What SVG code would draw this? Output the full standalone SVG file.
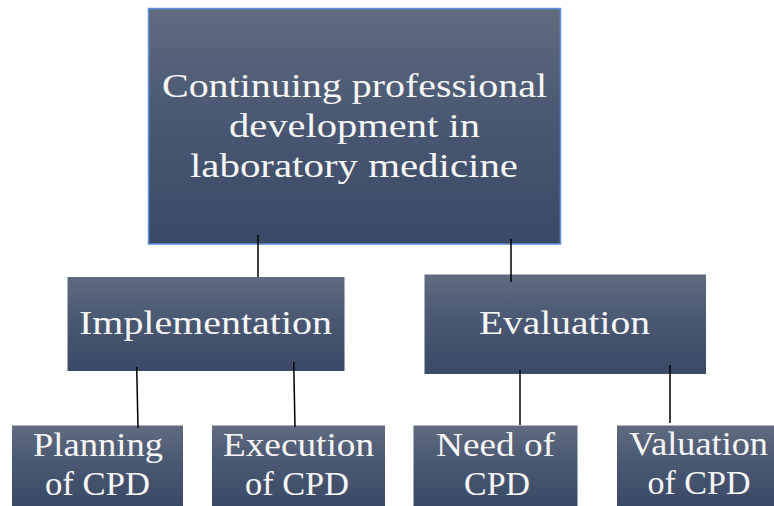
<svg xmlns="http://www.w3.org/2000/svg" width="774" height="506" viewBox="0 0 774 506">
  <defs>
    <linearGradient id="g" x1="0" y1="0" x2="0" y2="1">
      <stop offset="0" stop-color="#606b7e"/>
      <stop offset="0.45" stop-color="#4a5873"/>
      <stop offset="1" stop-color="#3a4965"/>
    </linearGradient>
    <style>
      .box { fill: url(#g); }
      .top { stroke: #5f8fdc; stroke-width: 1.5; }
      .t { font-family: "Liberation Serif", "DejaVu Serif", serif; fill: #f7f7f7; text-anchor: middle; font-size: 34px; }
      .c line { stroke: #000000; stroke-width: 1.5; }
    </style>
  </defs>
  <rect width="774" height="506" fill="#ffffff"/>

  <g id="root">
    <rect class="box top" x="148.5" y="8.5" width="412" height="235.5"/>
    <text class="t" x="354.5" y="97" textLength="385" lengthAdjust="spacingAndGlyphs">Continuing professional</text>
    <text class="t" x="354.5" y="137" textLength="251" lengthAdjust="spacingAndGlyphs">development in</text>
    <text class="t" x="354" y="177" textLength="328" lengthAdjust="spacingAndGlyphs">laboratory medicine</text>
  </g>

  <g id="implementation">
    <rect class="box" x="67.5" y="277" width="277" height="94"/>
    <text class="t" x="205.5" y="334" textLength="253" lengthAdjust="spacingAndGlyphs">Implementation</text>
  </g>

  <g id="evaluation">
    <rect class="box" x="424.5" y="274.5" width="281.5" height="99.5"/>
    <text class="t" x="564.5" y="334" textLength="171" lengthAdjust="spacingAndGlyphs">Evaluation</text>
  </g>

  <g id="planning">
    <rect class="box" x="12" y="425.5" width="171" height="81"/>
    <text class="t" x="98" y="456" textLength="130" lengthAdjust="spacingAndGlyphs">Planning</text>
    <text class="t" x="97.5" y="495" textLength="105" lengthAdjust="spacingAndGlyphs">of CPD</text>
  </g>

  <g id="execution">
    <rect class="box" x="212" y="425.5" width="173" height="81"/>
    <text class="t" x="298.5" y="456" textLength="151" lengthAdjust="spacingAndGlyphs">Execution</text>
    <text class="t" x="297" y="495" textLength="104" lengthAdjust="spacingAndGlyphs">of CPD</text>
  </g>

  <g id="need">
    <rect class="box" x="413.5" y="425.5" width="164" height="81"/>
    <text class="t" x="495.5" y="456" textLength="119" lengthAdjust="spacingAndGlyphs">Need of</text>
    <text class="t" x="497" y="495" textLength="66" lengthAdjust="spacingAndGlyphs">CPD</text>
  </g>

  <g id="valuation">
    <rect class="box" x="617" y="425.5" width="161" height="81"/>
    <text class="t" x="698.5" y="455" textLength="139" lengthAdjust="spacingAndGlyphs">Valuation</text>
    <text class="t" x="699" y="494" textLength="103" lengthAdjust="spacingAndGlyphs">of CPD</text>
  </g>

  <g id="connectors" class="c">
    <line x1="258" y1="235" x2="258" y2="277"/>
    <line x1="511" y1="239" x2="511" y2="282"/>
    <line x1="136.7" y1="367" x2="138" y2="428"/>
    <line x1="293.7" y1="362" x2="295" y2="427"/>
    <line x1="520" y1="370" x2="520" y2="425"/>
    <line x1="670" y1="365" x2="670" y2="423"/>
  </g>
</svg>
